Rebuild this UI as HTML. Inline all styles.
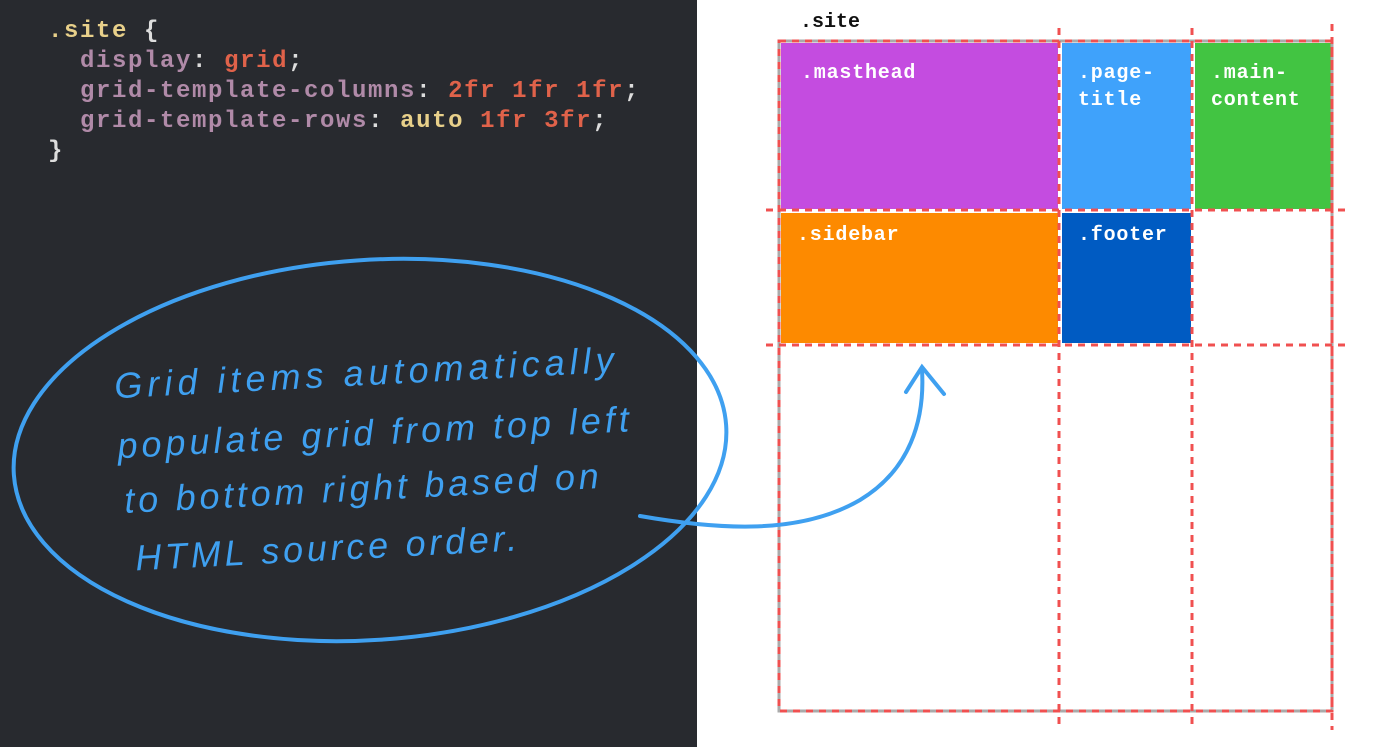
<!DOCTYPE html>
<html><head><meta charset="utf-8"><style>
body{margin:0;width:1374px;height:747px;position:relative;overflow:hidden;background:#fff;font-family:"Liberation Mono",monospace}
.dark{position:absolute;left:0;top:0;width:697px;height:747px;background:#282a2f}
.code{position:absolute;left:48px;top:17px;font-size:24px;letter-spacing:1.6px;line-height:30px;font-weight:bold;color:#ddd;white-space:pre}
.p{color:#b08aa8}.r{color:#e0624a}.y{color:#e8d08a}
.cell{position:absolute;color:#fff;font-weight:bold;font-size:20px;letter-spacing:0.8px;line-height:27px;box-sizing:border-box;padding:17px 0 0 20px}
.lbl{position:absolute;font-weight:bold;font-size:20px;color:#111}
</style></head><body>
<div class="dark"></div>
<div class="code"><span class="y">.site</span> {
  <span class="p">display</span>: <span class="r">grid</span>;
  <span class="p">grid-template-columns</span>: <span class="r">2fr 1fr 1fr</span>;
  <span class="p">grid-template-rows</span>: <span class="y">auto</span> <span class="r">1fr 3fr</span>;
}</div>
<div class="lbl" style="left:800px;top:11px">.site</div>
<div class="cell" style="left:781px;top:43px;width:277px;height:166px;background:#c44ce0">.masthead</div>
<div class="cell" style="left:1062px;top:43px;width:129px;height:166px;background:#3fa2fb;padding-left:16px">.page-<br>title</div>
<div class="cell" style="left:1195px;top:43px;width:136px;height:166px;background:#42c442;padding-left:16px">.main-<br>content</div>
<div class="cell" style="left:781px;top:213px;width:277px;height:130px;background:#fd8a00;padding-top:9px;padding-left:16px">.sidebar</div>
<div class="cell" style="left:1062px;top:213px;width:129px;height:130px;background:#005bc2;padding-top:9px;padding-left:16px">.footer</div>
<svg width="1374" height="747" style="position:absolute;left:0;top:0">
<rect x="779" y="41" width="553" height="670" fill="none" stroke="#aaa" stroke-width="3"/>
<g stroke="#f05050" stroke-width="3" stroke-dasharray="7,6" fill="none">
<rect x="779" y="41" width="553" height="670"/>
<line x1="1059" y1="28" x2="1059" y2="730"/>
<line x1="1192" y1="28" x2="1192" y2="730"/>
<line x1="1332" y1="24" x2="1332" y2="730"/>
<line x1="766" y1="210" x2="1345" y2="210"/>
<line x1="766" y1="345" x2="1345" y2="345"/>
</g>
<g stroke="#3fa0f0" stroke-width="4" fill="none" stroke-linecap="round">
<ellipse cx="370" cy="450" rx="357" ry="190" transform="rotate(-4 370 450)"/>
<path d="M640 516 C720 530 800 535 860 500 C910 470 925 420 922 370"/>
<path d="M906 392 L922 367 L944 394"/>
</g>
<g fill="#3fa0f0" font-family="'Liberation Sans',sans-serif" font-style="italic" font-size="36" transform="rotate(-3 370 450)">
<text x="118" y="385" textLength="500">Grid items automatically</text>
<text x="118" y="445" textLength="512">populate grid from top left</text>
<text x="122" y="500" textLength="475">to bottom right based on</text>
<text x="130" y="558" textLength="382">HTML source order.</text>
</g>
</svg>
</body></html>
